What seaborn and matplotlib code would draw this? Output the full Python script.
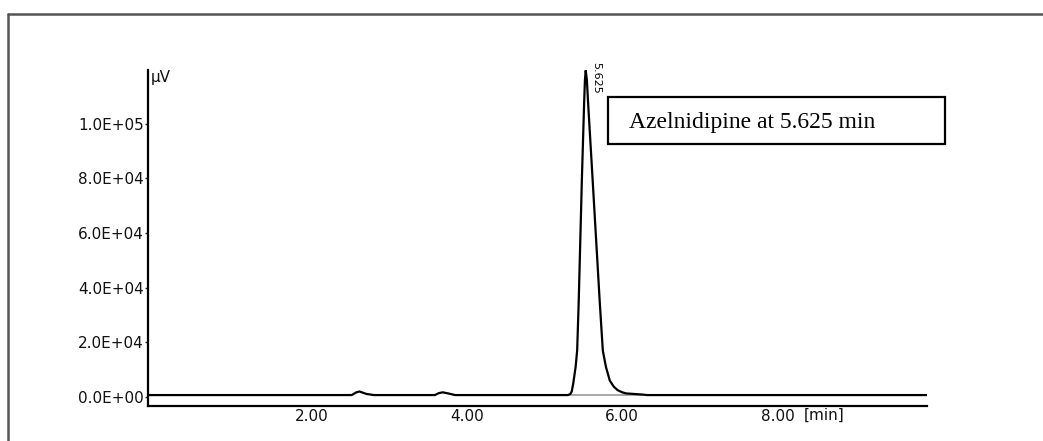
import numpy as np
import pandas as pd
import seaborn as sns
import matplotlib.pyplot as plt
from matplotlib.lines import Line2D

# chromatogram trace (time in min, signal in uV)
time_min = [-0.10, 2.52, 2.58, 2.62, 2.66, 2.71, 2.76, 2.80,
            3.59, 3.64, 3.69, 3.76, 3.85,
            5.30, 5.33, 5.35, 5.37, 5.40, 5.42, 5.44, 5.48, 5.51, 5.52,
            5.53, 5.545, 5.56, 5.62, 5.71, 5.75, 5.79, 5.84, 5.89, 5.94,
            6.00, 6.05, 6.15, 6.25, 6.32, 9.92]
signal_uv = [700, 700, 1700, 2000, 1600, 1100, 900, 700,
             700, 1400, 1700, 1300, 700,
             700, 1000, 2000, 5000, 11000, 17000, 35000, 79000, 108000, 116000,
             119500, 116000, 108000, 79000, 35000, 17000, 11000, 6000, 3800, 2500,
             1700, 1300, 1100, 900, 700, 700]

peak_label = "5.625"
peak_time = 5.53
peak_height = 119500
baseline_span = [5.34, 6.25]
baseline_level = 700

y_ticks = [0, 20000, 40000, 60000, 80000, 100000]
y_labels = ["0.0E+00", "2.0E+04", "4.0E+04", "6.0E+04", "8.0E+04", "1.0E+05"]
x_ticks = [2, 4, 6, 8]
x_labels = ["2.00", "4.00", "6.00", "8.00"]

df = pd.DataFrame({"time": time_min, "signal": signal_uv})

sns.set_style("white")
plt.rcParams['font.family'] = ['DejaVu Sans']

fig = plt.figure(figsize=(10.43, 4.41), dpi=100)
ax = fig.add_axes([0.1419, 0.0794, 0.7469, 0.7619])

# integration baseline under the main peak
ax.plot(baseline_span, [baseline_level, baseline_level], color="#999999", lw=1.2)
sns.lineplot(data=df, x="time", y="signal", ax=ax, color="black", lw=1.6,
             sort=False, estimator=None)

ax.set_xlim(-0.1, 9.92)
ax.set_ylim(-3300, 119700)

ax.set_yticks(y_ticks)
ax.set_yticklabels(y_labels, fontsize=11, color="#111111")
ax.set_xticks(x_ticks)
ax.set_xticklabels(x_labels, fontsize=11, color="#111111")
ax.tick_params(axis="y", length=2, width=1, pad=1, direction="out", left=True)
ax.tick_params(axis="x", length=0, pad=2)
ax.set_xlabel("")
ax.set_ylabel("")

for side in ["top", "right"]:
    ax.spines[side].set_visible(False)
for side in ["left", "bottom"]:
    ax.spines[side].set_color("black")
    ax.spines[side].set_linewidth(1.6)

# units
ax.text(0.003, 1.0, "µV", transform=ax.transAxes, fontsize=11,
        ha="left", va="top", color="#111111")
ax.text(8.33, -0.006, "[min]", transform=ax.get_xaxis_transform(),
        fontsize=11, ha="left", va="top", color="#111111")

# peak retention time label
ax.text(peak_time + 0.07, peak_height + 3000, peak_label, rotation=270,
        fontsize=8, ha="left", va="top", color="black")

# annotation box
ax.text(0.617, 0.845, "Azelnidipine at 5.625 min", transform=ax.transAxes,
        fontsize=17, family="Liberation Serif", ha="left", va="center",
        color="black")
fig.add_artist(plt.Rectangle((608 / 1043, 1 - 144 / 441), 337 / 1043, 47 / 441,
                             fill=False, edgecolor="black", lw=1.6,
                             transform=fig.transFigure))

# outer frame (left and top edges)
fig.add_artist(Line2D([8 / 1043, 8 / 1043], [0, 1 - 14 / 441],
                      color="#555555", lw=1.8, transform=fig.transFigure))
fig.add_artist(Line2D([8 / 1043, 1], [1 - 14 / 441, 1 - 14 / 441],
                      color="#555555", lw=1.8, transform=fig.transFigure))

fig.savefig("out.png", dpi=100)
